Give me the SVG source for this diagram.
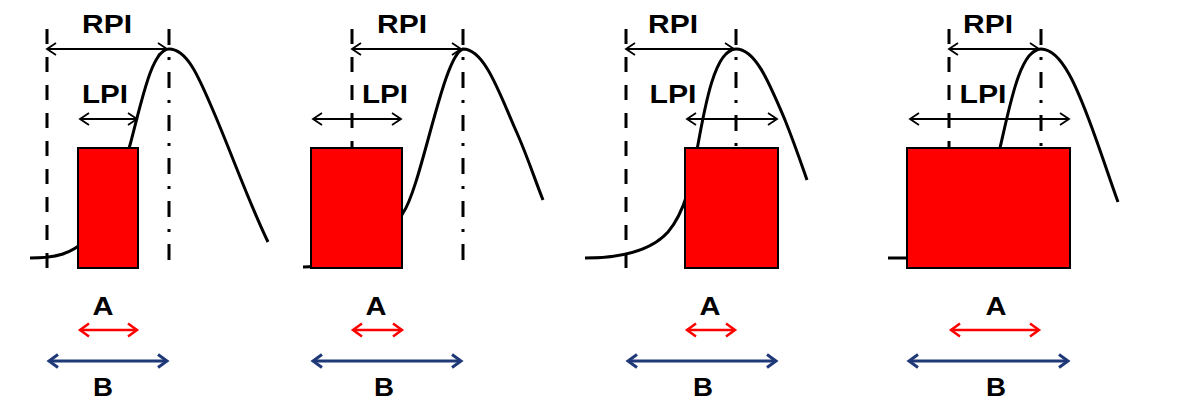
<svg xmlns="http://www.w3.org/2000/svg" width="1189" height="403" viewBox="0 0 1189 403">
<defs>
<style>
.dash{stroke:#000;stroke-width:3;stroke-dasharray:15 13;fill:none}
.dd{stroke:#000;stroke-width:3;stroke-dasharray:16 12 3 12;fill:none}
.curve{stroke:#000;stroke-width:3;fill:none}
.box{fill:#ff0000;stroke:#000;stroke-width:2}
.blk{stroke:#000;stroke-width:1.8;fill:none;marker-start:url(#mk);marker-end:url(#mk)}
.red{stroke:#ff0000;stroke-width:2.5;fill:none;marker-start:url(#mr);marker-end:url(#mr)}
.blu{stroke:#1f3978;stroke-width:3;fill:none;marker-start:url(#mb);marker-end:url(#mb)}
.lbl{font-family:"Liberation Sans",Arial,sans-serif;font-weight:bold;font-size:25px;fill:#000;text-anchor:middle}
</style>
<marker id="mk" markerUnits="userSpaceOnUse" viewBox="-12 -8 14 16" markerWidth="14" markerHeight="16" refX="0" refY="0" orient="auto-start-reverse" overflow="visible"><path d="M-9,-6 L0,0 L-9,6" fill="none" stroke="#000" stroke-width="1.8"/></marker>
<marker id="mr" markerUnits="userSpaceOnUse" viewBox="-12 -8 14 16" markerWidth="14" markerHeight="16" refX="0" refY="0" orient="auto-start-reverse" overflow="visible"><path d="M-9,-6.5 L0,0 L-9,6.5" fill="none" stroke="#ff0000" stroke-width="2.5"/></marker>
<marker id="mb" markerUnits="userSpaceOnUse" viewBox="-12 -8 14 16" markerWidth="14" markerHeight="16" refX="0" refY="0" orient="auto-start-reverse" overflow="visible"><path d="M-9,-6.5 L0,0 L-9,6.5" fill="none" stroke="#1f3978" stroke-width="3"/></marker>
</defs>
<rect width="1189" height="403" fill="#fff"/>

<g id="panel1">
<line class="dash" x1="47" y1="29" x2="47" y2="268"/>
<line class="dd" x1="169" y1="29" x2="169" y2="268"/>
<path class="curve" d="M30,258 C55,258 72,254 85,240 C105,215 120,180 130,145 C142,100 152,49 169,49 C188,49 200,80 215,115 C232,155 250,205 268,242"/>
<rect class="box" x="78" y="148" width="60" height="120"/>
<line class="blk" x1="47" y1="49" x2="167" y2="49"/>
<line class="blk" x1="80" y1="119" x2="137" y2="119"/>
<text class="lbl" x="107" y="33" textLength="50" lengthAdjust="spacingAndGlyphs">RPI</text>
<text class="lbl" x="105" y="103" textLength="46" lengthAdjust="spacingAndGlyphs">LPI</text>
<text class="lbl" x="103" y="315" textLength="21" lengthAdjust="spacingAndGlyphs">A</text>
<line class="red" x1="80" y1="330" x2="137" y2="330"/>
<line class="blu" x1="49" y1="361" x2="167" y2="361"/>
<text class="lbl" x="103" y="396" textLength="20" lengthAdjust="spacingAndGlyphs">B</text>
</g>

<g id="panel2">
<line class="dash" x1="352" y1="29" x2="352" y2="150"/>
<line class="dd" x1="463" y1="29" x2="463" y2="268"/>
<path class="curve" d="M303,267 C345,267 385,245 403,213 C422,185 443,55 463,49 C485,49 500,95 517,133 C528,158 535,180 543,200"/>
<rect class="box" x="311" y="148" width="91" height="120"/>
<line class="blk" x1="352" y1="49" x2="461" y2="49"/>
<line class="blk" x1="313" y1="119" x2="401" y2="119"/>
<text class="lbl" x="402" y="33" textLength="50" lengthAdjust="spacingAndGlyphs">RPI</text>
<text class="lbl" x="385" y="103" textLength="46" lengthAdjust="spacingAndGlyphs">LPI</text>
<text class="lbl" x="376" y="315" textLength="21" lengthAdjust="spacingAndGlyphs">A</text>
<line class="red" x1="353" y1="330" x2="402" y2="330"/>
<line class="blu" x1="313" y1="361" x2="461" y2="361"/>
<text class="lbl" x="384" y="396" textLength="20" lengthAdjust="spacingAndGlyphs">B</text>
</g>

<g id="panel3">
<line class="dash" x1="626" y1="29" x2="626" y2="268"/>
<line class="dd" x1="736" y1="29" x2="736" y2="150"/>
<path class="curve" d="M585,258 C620,258 650,252 668,232 C685,212 692,180 697,150 C705,105 715,49 736,49 C755,49 768,80 785,120 C795,145 800,160 807,180"/>
<rect class="box" x="685" y="148" width="93" height="120"/>
<line class="blk" x1="626" y1="49" x2="734" y2="49"/>
<line class="blk" x1="687" y1="119" x2="777" y2="119"/>
<text class="lbl" x="673" y="33" textLength="50" lengthAdjust="spacingAndGlyphs">RPI</text>
<text class="lbl" x="673" y="103" textLength="47" lengthAdjust="spacingAndGlyphs">LPI</text>
<text class="lbl" x="710" y="315" textLength="21" lengthAdjust="spacingAndGlyphs">A</text>
<line class="red" x1="687" y1="330" x2="735" y2="330"/>
<line class="blu" x1="628" y1="361" x2="776" y2="361"/>
<text class="lbl" x="703" y="396" textLength="20" lengthAdjust="spacingAndGlyphs">B</text>
</g>

<g id="panel4">
<line class="dash" x1="949" y1="29" x2="949" y2="150"/>
<line class="dd" x1="1041" y1="29" x2="1041" y2="150"/>
<path class="curve" d="M888,258 L915,258 C950,258 985,200 1000,148 C1010,105 1020,49 1041,49 C1062,49 1078,90 1092,128 C1103,158 1110,180 1118,202"/>
<rect class="box" x="907" y="148" width="163" height="120"/>
<line class="blk" x1="949" y1="49" x2="1039" y2="49"/>
<line class="blk" x1="910" y1="119" x2="1069" y2="119"/>
<text class="lbl" x="988" y="33" textLength="50" lengthAdjust="spacingAndGlyphs">RPI</text>
<text class="lbl" x="983" y="103" textLength="47" lengthAdjust="spacingAndGlyphs">LPI</text>
<text class="lbl" x="996" y="315" textLength="21" lengthAdjust="spacingAndGlyphs">A</text>
<line class="red" x1="951" y1="330" x2="1039" y2="330"/>
<line class="blu" x1="909" y1="361" x2="1068" y2="361"/>
<text class="lbl" x="996" y="396" textLength="20" lengthAdjust="spacingAndGlyphs">B</text>
</g>
</svg>
